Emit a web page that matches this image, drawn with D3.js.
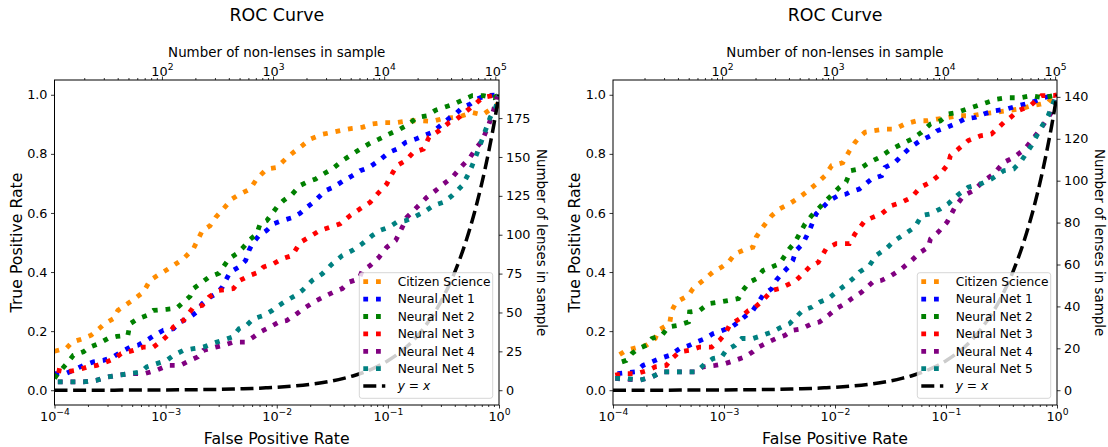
<!DOCTYPE html>
<html>
<head>
<meta charset="utf-8">
<script src="https://cdn.jsdelivr.net/npm/d3@7"></script>
<style>
  body { margin: 0; background: #fff; }
  svg { font-family: "DejaVu Sans", sans-serif; }
</style>
</head>
<body>
<svg id="chart" width="1108" height="447"></svg>
<script>
// each point: [log10(false positive rate), true positive rate]
const citizenLeft = [[-4.0,.132],[-3.89,.143],[-3.84,.163],[-3.74,.175],[-3.67,.186],[-3.6,.208],[-3.55,.225],[-3.47,.242],[-3.43,.27],[-3.3,.304],[-3.2,.332],[-3.14,.372],[-3.07,.389],[-3.0,.405],[-2.93,.422],[-2.84,.445],[-2.75,.479],[-2.67,.54],[-2.6,.557],[-2.55,.585],[-2.48,.614],[-2.4,.648],[-2.33,.664],[-2.24,.681],[-2.18,.715],[-2.09,.749],[-2.0,.754],[-1.92,.783],[-1.85,.805],[-1.77,.828],[-1.7,.85],[-1.59,.866],[-1.5,.873],[-1.41,.88],[-1.32,.886],[-1.23,.89],[-1.14,.901],[-1.04,.906],[-0.92,.906],[-0.81,.912],[-0.71,.912],[-0.6,.91],[-0.5,.92],[-0.41,.923],[-0.33,.929],[-0.24,.94],[-0.15,.932],[-0.08,.95],[-0.02,.96],[0,1.0]]
const net1Left = [[-4.0,.056],[-3.9,.056],[-3.83,.068],[-3.74,.084],[-3.65,.096],[-3.56,.101],[-3.47,.113],[-3.4,.13],[-3.32,.146],[-3.25,.152],[-3.17,.169],[-3.1,.186],[-3.02,.203],[-2.93,.208],[-2.87,.231],[-2.8,.242],[-2.72,.265],[-2.67,.293],[-2.6,.315],[-2.54,.327],[-2.49,.349],[-2.42,.4],[-2.34,.417],[-2.28,.439],[-2.25,.473],[-2.22,.496],[-2.16,.524],[-2.09,.541],[-2.03,.563],[-1.95,.574],[-1.86,.584],[-1.79,.599],[-1.73,.619],[-1.67,.636],[-1.56,.676],[-1.49,.687],[-1.4,.709],[-1.32,.726],[-1.25,.743],[-1.17,.754],[-1.08,.777],[-0.99,.805],[-0.92,.816],[-0.84,.839],[-0.75,.85],[-0.68,.861],[-0.6,.873],[-0.51,.901],[-0.44,.923],[-0.39,.935],[-0.33,.957],[-0.26,.968],[-0.2,.985],[-0.12,.997],[0,1.0]]
const net2Left = [[-4.0,.04],[-3.97,.056],[-3.89,.09],[-3.83,.118],[-3.74,.13],[-3.68,.146],[-3.6,.158],[-3.52,.175],[-3.44,.182],[-3.34,.186],[-3.32,.225],[-3.25,.242],[-3.17,.253],[-3.11,.27],[-2.99,.274],[-2.9,.278],[-2.84,.298],[-2.78,.318],[-2.75,.344],[-2.67,.366],[-2.61,.383],[-2.52,.396],[-2.43,.445],[-2.36,.462],[-2.3,.484],[-2.25,.507],[-2.18,.529],[-2.15,.563],[-2.09,.574],[-2.0,.619],[-1.94,.642],[-1.86,.664],[-1.79,.693],[-1.73,.704],[-1.65,.715],[-1.58,.732],[-1.5,.749],[-1.41,.777],[-1.34,.794],[-1.25,.816],[-1.16,.836],[-1.08,.85],[-0.99,.867],[-0.89,.884],[-0.81,.901],[-0.74,.923],[-0.65,.929],[-0.57,.948],[-0.5,.957],[-0.41,.968],[-0.33,.982],[-0.24,.997],[-0.14,.997],[-0.05,.99],[0,1.0]]
const net3Left = [[-3.98,.068],[-3.9,.062],[-3.8,.068],[-3.7,.079],[-3.62,.084],[-3.53,.096],[-3.46,.107],[-3.4,.124],[-3.29,.135],[-3.2,.146],[-3.11,.146],[-3.03,.169],[-2.98,.186],[-2.93,.214],[-2.84,.236],[-2.75,.281],[-2.67,.287],[-2.61,.315],[-2.52,.338],[-2.39,.344],[-2.33,.372],[-2.24,.389],[-2.16,.4],[-2.12,.417],[-2.03,.428],[-1.95,.445],[-1.86,.456],[-1.79,.5],[-1.71,.518],[-1.61,.541],[-1.52,.552],[-1.43,.563],[-1.34,.591],[-1.25,.614],[-1.16,.636],[-1.08,.67],[-1.01,.698],[-0.98,.721],[-0.92,.76],[-0.84,.777],[-0.77,.805],[-0.68,.816],[-0.63,.856],[-0.54,.878],[-0.45,.906],[-0.38,.918],[-0.29,.946],[-0.23,.963],[-0.15,.99],[-0.06,.997],[0,1.0]]
const net4Left = [[-3.97,.028],[-3.74,.028],[-3.62,.034],[-3.52,.045],[-3.43,.051],[-3.32,.056],[-3.19,.056],[-3.08,.068],[-2.98,.084],[-2.87,.084],[-2.78,.101],[-2.71,.113],[-2.66,.135],[-2.55,.146],[-2.48,.152],[-2.39,.163],[-2.28,.163],[-2.21,.18],[-2.15,.197],[-2.06,.214],[-1.98,.231],[-1.91,.236],[-1.82,.259],[-1.74,.281],[-1.64,.304],[-1.55,.321],[-1.49,.332],[-1.41,.344],[-1.35,.366],[-1.26,.377],[-1.23,.405],[-1.16,.422],[-1.08,.45],[-1.01,.484],[-0.93,.507],[-0.87,.552],[-0.83,.585],[-0.74,.619],[-0.65,.653],[-0.57,.676],[-0.5,.698],[-0.42,.721],[-0.33,.76],[-0.26,.788],[-0.2,.822],[-0.15,.845],[-0.09,.901],[-0.05,.946],[-0.02,.99],[0,1.0]]
const net5Left = [[-3.97,.028],[-3.85,.028],[-3.74,.028],[-3.62,.034],[-3.52,.045],[-3.43,.051],[-3.32,.056],[-3.22,.062],[-3.17,.079],[-3.08,.09],[-2.99,.101],[-2.93,.118],[-2.84,.135],[-2.75,.141],[-2.66,.146],[-2.58,.158],[-2.49,.169],[-2.4,.18],[-2.34,.208],[-2.27,.22],[-2.21,.242],[-2.12,.253],[-2.04,.27],[-1.98,.287],[-1.91,.304],[-1.83,.321],[-1.77,.338],[-1.68,.372],[-1.59,.394],[-1.5,.428],[-1.41,.456],[-1.32,.473],[-1.23,.496],[-1.14,.524],[-1.07,.541],[-0.99,.552],[-0.92,.569],[-0.84,.574],[-0.77,.585],[-0.68,.602],[-0.59,.625],[-0.5,.636],[-0.42,.659],[-0.33,.693],[-0.26,.743],[-0.2,.8],[-0.14,.861],[-0.08,.923],[-0.03,.957],[0,1.0]]

const citizenRight = [[-3.94,.121],[-3.88,.135],[-3.77,.146],[-3.7,.152],[-3.62,.175],[-3.59,.203],[-3.49,.225],[-3.47,.27],[-3.43,.298],[-3.32,.321],[-3.28,.344],[-3.17,.377],[-3.1,.4],[-3.02,.417],[-2.96,.433],[-2.9,.462],[-2.83,.473],[-2.74,.484],[-2.71,.518],[-2.65,.552],[-2.57,.591],[-2.5,.614],[-2.41,.631],[-2.32,.653],[-2.24,.676],[-2.17,.698],[-2.09,.726],[-2.03,.76],[-1.93,.77],[-1.87,.81],[-1.82,.839],[-1.78,.856],[-1.73,.873],[-1.66,.878],[-1.55,.884],[-1.46,.884],[-1.37,.901],[-1.26,.912],[-1.17,.912],[-1.08,.918],[-0.98,.923],[-0.89,.929],[-0.77,.929],[-0.68,.935],[-0.57,.94],[-0.45,.946],[-0.33,.952],[-0.23,.963],[-0.15,.968],[-0.08,.974],[-0.03,.997],[0,1.0]]
const net1Right = [[-3.96,.056],[-3.8,.062],[-3.73,.084],[-3.65,.096],[-3.58,.107],[-3.49,.118],[-3.4,.141],[-3.31,.152],[-3.25,.163],[-3.17,.175],[-3.1,.191],[-3.01,.203],[-2.93,.214],[-2.87,.231],[-2.8,.253],[-2.74,.27],[-2.69,.298],[-2.65,.321],[-2.57,.344],[-2.53,.372],[-2.48,.394],[-2.42,.417],[-2.38,.439],[-2.35,.473],[-2.29,.496],[-2.23,.541],[-2.17,.597],[-2.11,.619],[-2.05,.642],[-1.97,.659],[-1.9,.664],[-1.87,.67],[-1.78,.681],[-1.67,.715],[-1.58,.726],[-1.55,.754],[-1.46,.771],[-1.37,.805],[-1.32,.822],[-1.23,.845],[-1.14,.861],[-1.08,.878],[-0.99,.89],[-0.92,.901],[-0.83,.918],[-0.74,.923],[-0.66,.935],[-0.56,.946],[-0.45,.952],[-0.35,.963],[-0.23,.974],[-0.12,.99],[0,1.0]]
const net2Right = [[-3.92,.096],[-3.88,.101],[-3.83,.124],[-3.77,.141],[-3.7,.152],[-3.65,.175],[-3.56,.186],[-3.5,.214],[-3.41,.22],[-3.32,.231],[-3.31,.265],[-3.22,.27],[-3.14,.293],[-3.05,.298],[-2.96,.304],[-2.87,.31],[-2.83,.338],[-2.77,.366],[-2.71,.377],[-2.65,.405],[-2.57,.417],[-2.5,.428],[-2.41,.479],[-2.36,.501],[-2.32,.529],[-2.27,.563],[-2.21,.591],[-2.15,.614],[-2.08,.642],[-2.02,.664],[-1.96,.687],[-1.9,.705],[-1.86,.743],[-1.78,.749],[-1.69,.771],[-1.6,.788],[-1.49,.816],[-1.4,.833],[-1.31,.85],[-1.22,.873],[-1.14,.901],[-1.05,.912],[-0.98,.935],[-0.9,.94],[-0.81,.952],[-0.72,.963],[-0.63,.974],[-0.54,.985],[-0.45,.99],[-0.33,.99],[-0.23,.997],[-0.12,.99],[0,1.0]]
const net3Right = [[-3.98,.051],[-3.91,.056],[-3.79,.056],[-3.68,.068],[-3.62,.079],[-3.52,.084],[-3.47,.107],[-3.4,.13],[-3.31,.135],[-3.22,.146],[-3.11,.146],[-3.04,.169],[-2.99,.191],[-2.95,.22],[-2.86,.242],[-2.78,.27],[-2.72,.281],[-2.65,.304],[-2.57,.338],[-2.5,.344],[-2.41,.36],[-2.35,.372],[-2.29,.394],[-2.23,.417],[-2.15,.433],[-2.08,.479],[-1.99,.496],[-1.87,.496],[-1.82,.529],[-1.73,.574],[-1.66,.585],[-1.58,.597],[-1.49,.625],[-1.4,.636],[-1.31,.653],[-1.23,.687],[-1.14,.704],[-1.05,.732],[-0.98,.766],[-0.96,.794],[-0.89,.816],[-0.8,.845],[-0.69,.861],[-0.59,.867],[-0.48,.906],[-0.42,.923],[-0.35,.946],[-0.24,.963],[-0.14,.997],[-0.03,.997],[0,1.0]]
const net4Right = [[-3.98,.04],[-3.76,.034],[-3.65,.045],[-3.56,.062],[-3.25,.062],[-3.19,.079],[-3.08,.084],[-2.99,.09],[-2.9,.101],[-2.81,.113],[-2.74,.13],[-2.69,.146],[-2.6,.163],[-2.53,.175],[-2.45,.186],[-2.38,.203],[-2.3,.208],[-2.21,.225],[-2.14,.231],[-2.06,.253],[-1.99,.276],[-1.91,.293],[-1.85,.31],[-1.76,.332],[-1.66,.366],[-1.58,.372],[-1.49,.389],[-1.4,.411],[-1.31,.439],[-1.23,.467],[-1.16,.484],[-1.14,.512],[-1.07,.535],[-0.99,.569],[-0.92,.619],[-0.84,.659],[-0.75,.676],[-0.66,.709],[-0.57,.732],[-0.48,.771],[-0.39,.788],[-0.29,.816],[-0.23,.845],[-0.17,.873],[-0.11,.906],[-0.05,.94],[-0.02,.985],[0,1.0]]
const net5Right = [[-3.98,.04],[-3.88,.04],[-3.76,.034],[-3.65,.045],[-3.56,.062],[-3.46,.062],[-3.35,.062],[-3.25,.062],[-3.17,.09],[-3.1,.107],[-3.02,.113],[-2.98,.135],[-2.9,.152],[-2.84,.175],[-2.74,.175],[-2.65,.186],[-2.57,.197],[-2.48,.214],[-2.41,.225],[-2.35,.248],[-2.29,.27],[-2.21,.281],[-2.14,.298],[-2.06,.31],[-1.99,.332],[-1.91,.355],[-1.84,.377],[-1.78,.4],[-1.69,.422],[-1.63,.456],[-1.54,.479],[-1.46,.507],[-1.37,.529],[-1.28,.552],[-1.22,.591],[-1.14,.597],[-1.05,.614],[-0.98,.631],[-0.9,.659],[-0.8,.687],[-0.69,.698],[-0.59,.715],[-0.48,.743],[-0.39,.749],[-0.32,.777],[-0.23,.828],[-0.15,.884],[-0.08,.929],[-0.02,.985],[0,1.0]]

const seriesNames = ['Citizen Science', 'Neural Net 1', 'Neural Net 2', 'Neural Net 3', 'Neural Net 4', 'Neural Net 5']
const seriesColors = ['#ff8c00', '#0000ff', '#008000', '#ff0000', '#800080', '#008080']
const rateTicks = [0, 0.2, 0.4, 0.6, 0.8, 1.0]
const lensTicksLeft = [0, 25, 50, 75, 100, 125, 150, 175]
const lensTicksRight = [0, 20, 40, 60, 80, 100, 120, 140]

const panels = [
  { x0: 54.5, x1: 499, nonLenses: 1.08e5, lenses: 190, lensTicks: lensTicksLeft,
    curves: [citizenLeft, net1Left, net2Left, net3Left, net4Left, net5Left] },
  { x0: 613, x1: 1057, nonLenses: 1.04e5, lenses: 141, lensTicks: lensTicksRight,
    curves: [citizenRight, net1Right, net2Right, net3Right, net4Right, net5Right] },
]

const plotTop = 80, plotBottom = 405
const tickFont = 12.8
const legendFont = 12.2
const svg = d3.select('#chart')
const isPow10 = (v) => Math.abs(Math.log10(v) - Math.round(Math.log10(v))) < 1e-6

function powLabel(sel, exp) {
  sel.append('tspan').text('10')
  sel.append('tspan').attr('dy', -5.8).attr('font-size', tickFont * 0.72)
    .text(exp < 0 ? '\u2212' + (-exp) : String(exp))
}

function drawPanel(p, idx) {
  const g = svg.append('g')
  const x = d3.scaleLog().domain([1e-4, 1]).range([p.x0, p.x1])
  const y = d3.scaleLinear().domain([-0.05, 1.05]).range([plotBottom, plotTop])
  const xTop = d3.scaleLog().domain([p.nonLenses * 1e-4, p.nonLenses]).range([p.x0, p.x1])
  const yRight = d3.scaleLinear().domain([-0.05 * p.lenses, 1.05 * p.lenses]).range([plotBottom, plotTop])

  const clipId = 'clip' + idx
  g.append('clipPath').attr('id', clipId).append('rect')
    .attr('x', p.x0).attr('y', plotTop).attr('width', p.x1 - p.x0).attr('height', plotBottom - plotTop)

  const line = d3.line().x((d) => x(Math.pow(10, d[0]))).y((d) => y(d[1]))
  const plot = g.append('g').attr('clip-path', `url(#${clipId})`)
  p.curves.forEach((c, i) => {
    plot.append('path').datum(c)
      .attr('fill', 'none').attr('stroke', seriesColors[i])
      .attr('stroke-width', 4.8).attr('stroke-dasharray', '4.8,7.9')
      .attr('d', line)
  })
  // reference line y = x
  const diag = x.ticks().concat([1])
  const diagLine = d3.line().curve(d3.curveMonotoneX).x((d) => x(d)).y((d) => y(d))
  plot.append('path').datum(diag)
    .attr('fill', 'none').attr('stroke', '#000')
    .attr('stroke-width', 3.5).attr('stroke-dasharray', '13,5.6')
    .attr('d', diagLine)

  // bottom axis
  const majors = x.ticks().filter(isPow10)
  const minors = x.ticks().filter((v) => !isPow10(v))
  g.append('g').attr('transform', `translate(0,${plotBottom})`)
    .call(d3.axisBottom(x).tickValues(minors).tickSize(2).tickFormat(''))
  const bx = g.append('g').attr('transform', `translate(0,${plotBottom})`)
    .call(d3.axisBottom(x).tickValues(majors).tickSize(3.5).tickFormat(''))
  bx.selectAll('.tick').append('text').attr('y', 16).attr('fill', '#000')
    .attr('font-size', tickFont).attr('text-anchor', 'middle')
    .each(function (d) { powLabel(d3.select(this), Math.round(Math.log10(d))) })

  // top axis
  const tMajors = xTop.ticks().filter(isPow10)
  const tMinors = xTop.ticks().filter((v) => !isPow10(v))
  g.append('g').attr('transform', `translate(0,${plotTop})`)
    .call(d3.axisTop(xTop).tickValues(tMinors).tickSize(2).tickFormat(''))
  const tx = g.append('g').attr('transform', `translate(0,${plotTop})`)
    .call(d3.axisTop(xTop).tickValues(tMajors).tickSize(3.5).tickFormat(''))
  tx.selectAll('.tick').append('text').attr('y', -4).attr('fill', '#000')
    .attr('font-size', tickFont).attr('text-anchor', 'middle')
    .each(function (d) { powLabel(d3.select(this), Math.round(Math.log10(d))) })

  // left axis
  g.append('g').attr('transform', `translate(${p.x0},0)`)
    .call(d3.axisLeft(y).tickValues(rateTicks).tickSize(3.5).tickPadding(3.5).tickFormat(d3.format('.1f')))
  // right axis
  g.append('g').attr('transform', `translate(${p.x1},0)`)
    .call(d3.axisRight(yRight).tickValues(p.lensTicks).tickSize(3.5).tickPadding(3.5))

  g.selectAll('.domain').remove()
  g.selectAll('.tick line').attr('stroke', '#000').attr('stroke-width', 0.8)
  g.selectAll('.tick text').filter(function () { return !this.querySelector('tspan') })
    .attr('font-size', tickFont).attr('fill', '#000')
  g.selectAll('g').attr('font-family', null).attr('font-size', null)

  g.append('rect').attr('x', p.x0).attr('y', plotTop)
    .attr('width', p.x1 - p.x0).attr('height', plotBottom - plotTop)
    .attr('fill', 'none').attr('stroke', '#000').attr('stroke-width', 1)

  // legend
  const lw = 133.4, lh = 125.6
  const lx = p.x1 - 6.3 - lw, ly = plotBottom - 6.7 - lh
  const lg = g.append('g').attr('transform', `translate(${lx},${ly})`)
  lg.append('rect').attr('width', lw).attr('height', lh).attr('rx', 2.5)
    .attr('fill', '#fff').attr('fill-opacity', 0.8)
    .attr('stroke', '#cccccc').attr('stroke-opacity', 0.8)
  const labels = seriesNames.concat(['y = x'])
  labels.forEach((name, i) => {
    const cy = 9 + i * 17.4
    const h = lg.append('line').attr('x1', 4).attr('x2', 26).attr('y1', cy).attr('y2', cy)
    if (i < seriesNames.length) {
      h.attr('stroke', seriesColors[i]).attr('stroke-width', 4.8).attr('stroke-dasharray', '4.8,7.9')
    } else {
      h.attr('stroke', '#000').attr('stroke-width', 3.5).attr('stroke-dasharray', '13,5.6')
    }
    const t = lg.append('text').attr('x', 38.4).attr('y', cy + 4.4).attr('font-size', legendFont).attr('fill', '#000')
    if (i < seriesNames.length) {
      t.text(name)
    } else {
      t.append('tspan').attr('font-style', 'italic').text('y')
      t.append('tspan').text(' = ')
      t.append('tspan').attr('font-style', 'italic').text('x')
    }
  })

  // titles and axis labels
  const cx = (p.x0 + p.x1) / 2
  g.append('text').attr('x', cx).attr('y', 21).attr('text-anchor', 'middle')
    .attr('font-size', 17.4).text('ROC Curve')
  g.append('text').attr('x', cx).attr('y', 57).attr('text-anchor', 'middle')
    .attr('font-size', 13.4).text('Number of non-lenses in sample')
  g.append('text').attr('x', cx).attr('y', 443.5).attr('text-anchor', 'middle')
    .attr('font-size', 15.7).text('False Positive Rate')
  g.append('text').attr('transform', `translate(${p.x0 - 33},${(plotTop + plotBottom) / 2}) rotate(-90)`)
    .attr('text-anchor', 'middle').attr('font-size', 15.7).text('True Positive Rate')
  g.append('text').attr('transform', `translate(${p.x1 + 38},${(plotTop + plotBottom) / 2}) rotate(90)`)
    .attr('text-anchor', 'middle').attr('font-size', 13.4).text('Number of lenses in sample')
}

panels.forEach(drawPanel)
</script>
</body>
</html>
